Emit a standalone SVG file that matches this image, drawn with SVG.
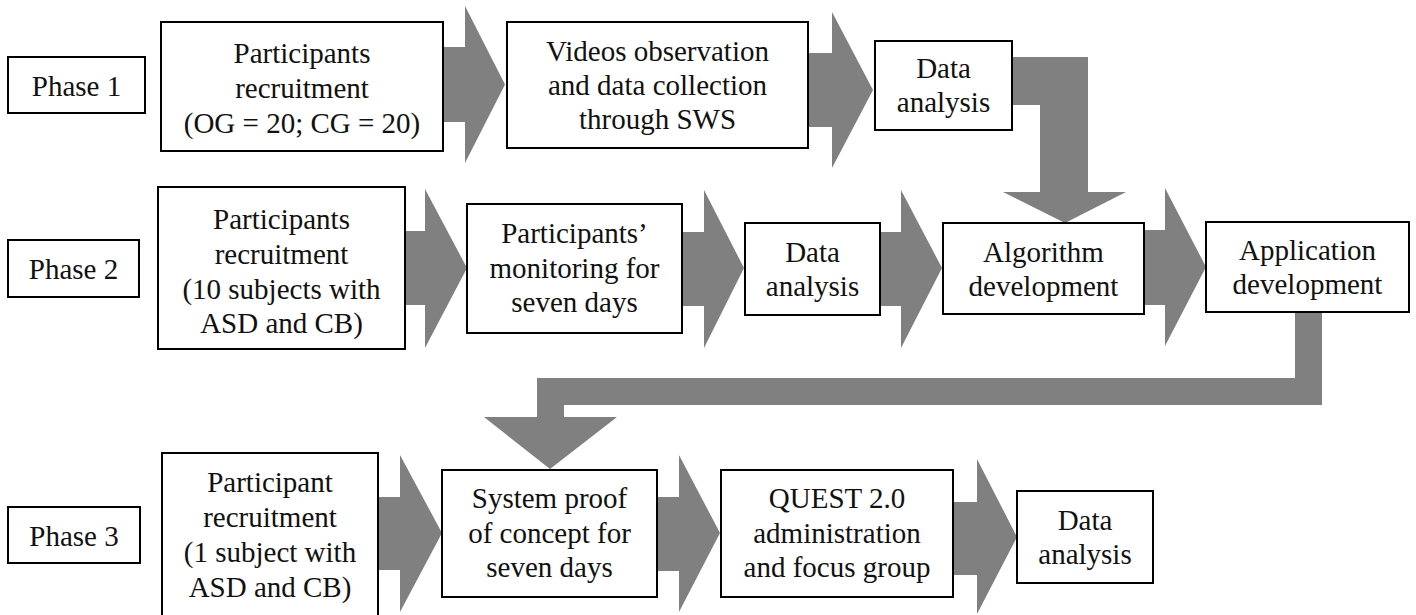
<svg xmlns="http://www.w3.org/2000/svg" width="1416" height="615" viewBox="0 0 1416 615" font-family="Liberation Serif, Times New Roman, serif">
<style>
.box{fill:#ffffff;stroke:#000000;stroke-width:2}
text{font-size:29px;fill:#111111;text-anchor:middle}
.arr{fill:#808080;stroke:none}
</style>
<rect x="0" y="0" width="1416" height="615" fill="#ffffff"/>
<g id="connectors">
<polygon class="arr" points="443,47 465,47 465,6 505,84.5 465,163 465,122 443,122"/>
<polygon class="arr" points="808,53 832,53 832,12 873,90 832,168 832,127 808,127"/>
<polygon class="arr" points="1012,57 1088,57 1088,192 1126,192 1065,223 1003,192 1040,192 1040,105 1012,105"/>
<polygon class="arr" points="405,231 425,231 425,189 467,268 425,348 425,305 405,305"/>
<polygon class="arr" points="682,232 704,232 704,190 744,268 704,348 704,306 682,306"/>
<polygon class="arr" points="880,232 901,232 901,190 942,268 901,348 901,306 880,306"/>
<polygon class="arr" points="1144,230 1165,230 1165,188 1206,267 1165,346 1165,305 1144,305"/>
<polygon class="arr" points="1295,312 1322,312 1322,405 564,405 564,417 617,417 550,469 484,417 537,417 537,378 1295,378"/>
<polygon class="arr" points="378,497 400,497 400,455 442,533 400,612 400,570 378,570"/>
<polygon class="arr" points="657,497 679,497 679,455 720,533 679,612 679,571 657,571"/>
<polygon class="arr" points="953,502 977,502 977,459 1017,537 977,614 977,575 953,575"/>
</g>
<g id="phase1">
<rect class="box" x="8" y="57" width="137" height="56"/>
<text x="76.5" y="96" font-family="Liberation Serif">Phase 1</text>
</g>
<g id="phase2">
<rect class="box" x="8" y="240" width="131" height="57"/>
<text x="73.5" y="279" font-family="Liberation Serif">Phase 2</text>
</g>
<g id="phase3">
<rect class="box" x="8" y="507" width="132" height="56"/>
<text x="74" y="546" font-family="Liberation Serif">Phase 3</text>
</g>
<g id="p1-recruitment" font-family="Liberation Serif">
<rect class="box" x="161" y="22" width="282" height="129"/>
<text x="302" y="63">Participants</text>
<text x="302" y="98">recruitment</text>
<text x="302" y="133">(OG = 20; CG = 20)</text>
</g>
<g id="p1-videos" font-family="Liberation Serif">
<rect class="box" x="507" y="22" width="301" height="126"/>
<text x="657.5" y="61">Videos observation</text>
<text x="657.5" y="95">and data collection</text>
<text x="657.5" y="129">through SWS</text>
</g>
<g id="p1-data" font-family="Liberation Serif">
<rect class="box" x="875" y="41" width="137" height="89"/>
<text x="943.5" y="78">Data</text>
<text x="943.5" y="112">analysis</text>
</g>
<g id="p2-recruitment" font-family="Liberation Serif">
<rect class="box" x="158" y="187" width="247" height="162"/>
<text x="281.5" y="229">Participants</text>
<text x="281.5" y="264">recruitment</text>
<text x="281.5" y="299">(10 subjects with</text>
<text x="281.5" y="333">ASD and CB)</text>
</g>
<g id="p2-monitoring" font-family="Liberation Serif">
<rect class="box" x="467" y="204" width="215" height="129"/>
<text x="574.5" y="243">Participants’</text>
<text x="574.5" y="277.5">monitoring for</text>
<text x="574.5" y="312">seven days</text>
</g>
<g id="p2-data" font-family="Liberation Serif">
<rect class="box" x="745" y="223" width="135" height="92"/>
<text x="812.5" y="262">Data</text>
<text x="812.5" y="296">analysis</text>
</g>
<g id="p2-algorithm" font-family="Liberation Serif">
<rect class="box" x="943" y="223" width="201" height="91"/>
<text x="1043.5" y="262">Algorithm</text>
<text x="1043.5" y="296">development</text>
</g>
<g id="p2-application" font-family="Liberation Serif">
<rect class="box" x="1206" y="222" width="203" height="90"/>
<text x="1307.5" y="260">Application</text>
<text x="1307.5" y="294">development</text>
</g>
<g id="p3-recruitment" font-family="Liberation Serif">
<rect class="box" x="162" y="453" width="216" height="165"/>
<text x="270" y="492">Participant</text>
<text x="270" y="527">recruitment</text>
<text x="270" y="562">(1 subject with</text>
<text x="270" y="597">ASD and CB)</text>
</g>
<g id="p3-system" font-family="Liberation Serif">
<rect class="box" x="442" y="470" width="215" height="127"/>
<text x="549.5" y="508">System proof</text>
<text x="549.5" y="543">of concept for</text>
<text x="549.5" y="577">seven days</text>
</g>
<g id="p3-quest" font-family="Liberation Serif">
<rect class="box" x="721" y="470" width="232" height="127"/>
<text x="837" y="508">QUEST  2.0</text>
<text x="837" y="543">administration</text>
<text x="837" y="577">and focus group</text>
</g>
<g id="p3-data" font-family="Liberation Serif">
<rect class="box" x="1017" y="491" width="136" height="92"/>
<text x="1085" y="530">Data</text>
<text x="1085" y="564">analysis</text>
</g>
</svg>
